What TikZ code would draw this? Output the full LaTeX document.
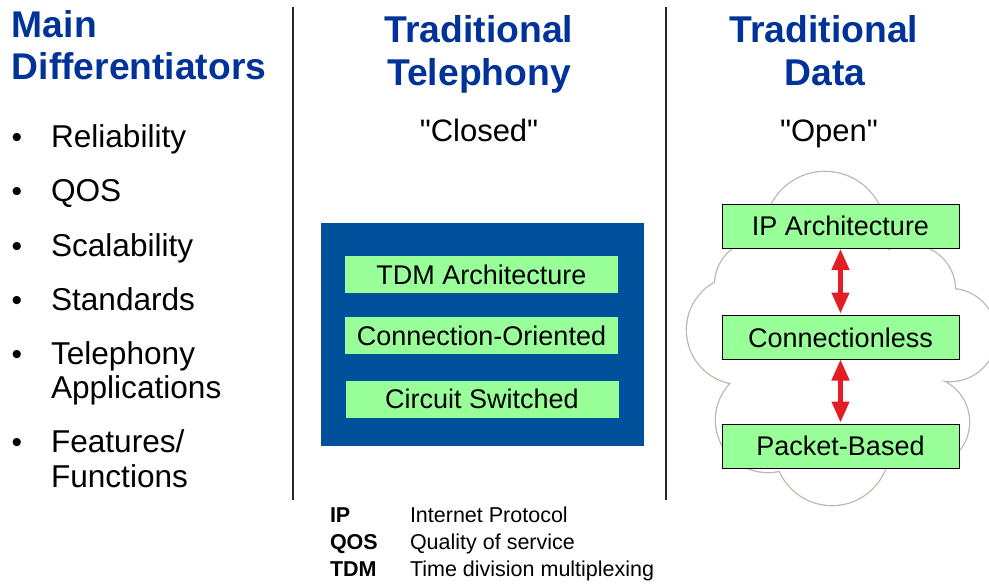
\documentclass[tikz,border=0pt]{standalone}
\usepackage{fontspec}
\setmainfont{Liberation Sans}
\newfontfamily\plainsans{Liberation Sans}
\usetikzlibrary{arrows.meta}
\definecolor{titleblue}{RGB}{0,51,153}
\definecolor{boxblue}{RGB}{0,80,155}
\definecolor{lgreen}{RGB}{153,255,153}
\definecolor{cloudgray}{RGB}{190,184,176}
\definecolor{arrowred}{RGB}{226,30,36}
\begin{document}
\begin{tikzpicture}[x=1pt,y=-1pt,
  every node/.style={inner sep=0pt,outer sep=0pt},
  heading/.style={text=titleblue,font=\fontsize{37.3}{42}\selectfont\bfseries,anchor=base},
  headingl/.style={text=titleblue,font=\fontsize{37.2}{42}\selectfont\bfseries,anchor=base west},
  item/.style={font=\fontsize{31.6}{34}\selectfont,anchor=base west},
  bul/.style={font=\fontsize{30}{34}\selectfont,anchor=base},
  quote/.style={font=\plainsans\fontsize{31}{34}\selectfont,anchor=base},
  divider/.style={line width=1.3pt,black!85},
  greenbox/.style={fill=lgreen,minimum width=273pt,minimum height=37pt,font=\fontsize{27}{30}\selectfont},
  cloudbox/.style={fill=lgreen,draw=black,line width=0.9pt,minimum width=237pt,minimum height=44pt,font=\fontsize{27}{30}\selectfont},
  redarrow/.style={draw=arrowred,line width=4.5pt,{Triangle[width=17pt,length=21pt]}-{Triangle[width=17pt,length=21pt]}},
  abbr/.style={font=\fontsize{21.5}{26}\selectfont\bfseries,anchor=base west},
  desc/.style={font=\fontsize{21.5}{26}\selectfont,anchor=base west}
]
\useasboundingbox (0,0) rectangle (989,586);
\fill[white] (0,0) rectangle (989,586);

% headings
\node[headingl] (h1a) at (12,38) {Main};
\node[headingl] (h1b) at (12,80) {Differentiators};
\node[heading] (h2a) at (479,43) {Traditional};
\node[heading] (h2b) at (479,85) {Telephony};
\node[heading] (h3a) at (824,43) {Traditional};
\node[heading] (h3b) at (825,85) {Data};

% dividers
\coordinate (d1t) at (293,7); \coordinate (d1b) at (293,500);
\coordinate (d2t) at (666,7); \coordinate (d2b) at (666,500);
\draw[divider] (d1t) -- (d1b);
\draw[divider] (d2t) -- (d2b);

% bullets
\node[bul] (b1) at (17,147) {•};
\node[item] (i1) at (51,147) {Reliability};
\node[bul] (b2) at (17,201) {•};
\node[item] (i2) at (51,201) {QOS};
\node[bul] (b3) at (17,256) {•};
\node[item] (i3) at (51,256) {Scalability};
\node[bul] (b4) at (17,310) {•};
\node[item] (i4) at (51,310) {Standards};
\node[bul] (b5) at (17,364) {•};
\node[item] (i5a) at (51,364) {Telephony};
\node[item] (i5b) at (51,398) {Applications};
\node[bul] (b6) at (17,452) {•};
\node[item] (i6a) at (51,452) {Features/};
\node[item] (i6b) at (51,487) {Functions};

% quotes
\node[quote] (closed) at (479,141) {"Closed"};
\node[quote] (open) at (829,141) {"Open"};

% telephony block
\node[fill=boxblue,minimum width=323pt,minimum height=223pt] (blue) at (482.5,334.5) {};
\node[greenbox] (tdm) at (481.5,274.5) {TDM Architecture};
\node[greenbox] (co) at (481.5,335.5) {Connection-Oriented};
\node[greenbox] (cs) at (482,399) {Circuit Switched};

% cloud
\def\cloudcircles{%
  (825,232) circle (60)
  (910,290) circle (45)
  (950,335) circle (46)
  (924,422) circle (45)
  (832,448) circle (57)
  (768,420) circle (52)
  (741,330) circle (54)
  (760,285) circle (45)
  (845,340) circle (100)}
\draw[cloudgray,line width=2.6pt] \cloudcircles;
\fill[white] \cloudcircles;

\node[cloudbox] (ip) at (840.5,226) {IP Architecture};
\node[cloudbox] (cl) at (840.5,337.5) {Connectionless};
\node[cloudbox] (pb) at (840.5,446) {Packet-Based};
\draw[redarrow] ([yshift=-1pt]ip.south) -- ([yshift=2pt]cl.north);
\draw[redarrow] ([yshift=0pt]cl.south) -- ([yshift=1.5pt]pb.north);

% legend
\node[abbr] (a1) at (330,522) {IP};
\node[desc] (t1) at (410,522) {Internet Protocol};
\node[abbr] (a2) at (330,549) {QOS};
\node[desc] (t2) at (410,549) {Quality of service};
\node[abbr] (a3) at (330,576) {TDM};
\node[desc] (t3) at (410,576) {Time division multiplexing};
\end{tikzpicture}
\end{document}
